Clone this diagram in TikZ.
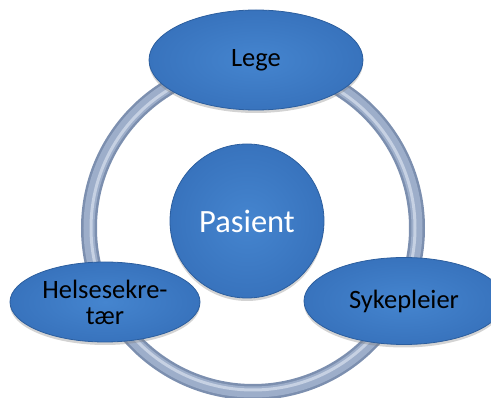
\documentclass[tikz,border=0pt]{standalone}
\usepackage{fontspec}
\setmainfont{Carlito}
\usetikzlibrary{shapes.geometric,shadows}
\definecolor{blobin}{HTML}{4585CF}
\definecolor{blobout}{HTML}{3873BD}
\definecolor{blobedge}{HTML}{2C5E9E}
\definecolor{ringdark}{HTML}{7C8FAF}
\definecolor{ringmid}{HTML}{9DAECA}
\definecolor{ringlight}{HTML}{C6D1E3}
\tikzset{
  blob/.style={ellipse, draw=blobedge, line width=0.8pt, inner color=blobin, outer color=blobout,
    drop shadow={opacity=0.35, shadow xshift=0pt, shadow yshift=-3pt}, inner sep=0pt},
  rolelabel/.style={font=\fontsize{26.5}{28}\selectfont, text=black, align=center},
}
\begin{document}
\begin{tikzpicture}[x=1pt,y=-1pt]
\useasboundingbox (0,0) rectangle (491,398);
% ring
\coordinate (rc) at (253,228);
\draw[ringdark, line width=16pt] (rc) circle[radius=164];
\draw[ringmid, line width=11pt] (rc) circle[radius=164];
\draw[ringlight, line width=3pt] (rc) circle[radius=162];
% centre
\node[blob, circle, minimum size=154pt, text=white, font=\fontsize{32.5}{34}\selectfont] (pasient) at (247,221) {Pasient};
% outer nodes
\node[blob, minimum width=214pt, minimum height=100pt, rolelabel] (lege) at (256,60) {Lege};
\node[blob, minimum width=190pt, minimum height=80pt, rolelabel] (helse) at (105,302) {Helsesekre-\\[-2pt]tær};
\node[blob, minimum width=200pt, minimum height=87pt, rolelabel] (syke) at (404,301) {Sykepleier};
\end{tikzpicture}
\end{document}
